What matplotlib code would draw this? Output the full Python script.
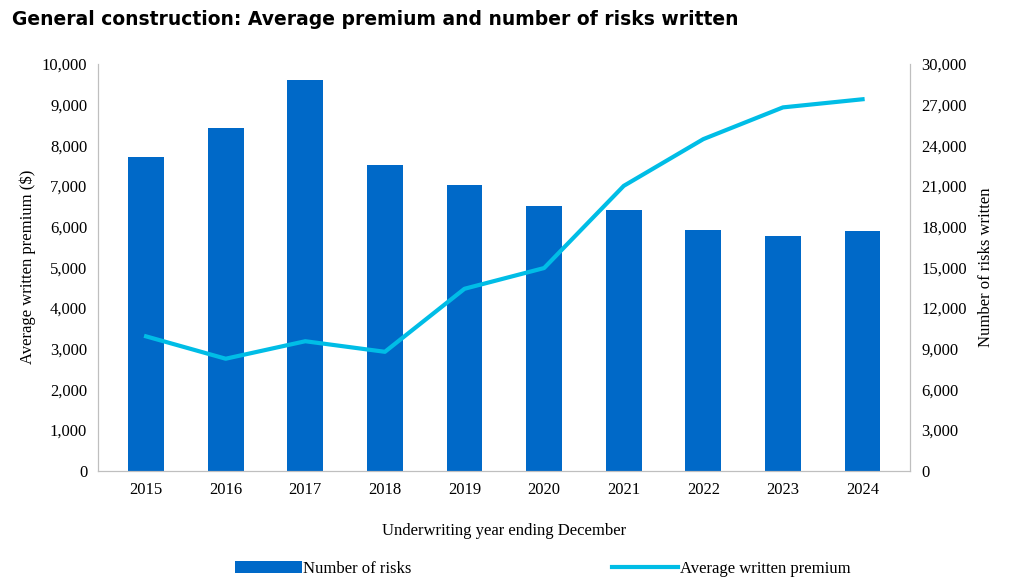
import matplotlib.pyplot as plt
from matplotlib.ticker import FuncFormatter

years = ["2015", "2016", "2017", "2018", "2019", "2020", "2021", "2022", "2023", "2024"]
risks = [23160, 25260, 28800, 22560, 21060, 19500, 19200, 17760, 17280, 17640]
premium = [3300, 2750, 3180, 2920, 4470, 4980, 7000, 8150, 8930, 9130]

plt.rcParams['font.family'] = 'Liberation Serif'
fig = plt.figure(figsize=(10.24, 5.86), dpi=100)
ax = fig.add_axes([0.096, 0.197, 0.793, 0.694])
ax2 = ax.twinx()
x = list(range(len(years)))

ax2.bar(x, risks, width=0.45, color="#0069c8", label="Number of risks", zorder=2)
ax.plot(x, premium, color="#00bde6", lw=3, label="Average written premium", zorder=3)
ax.set_zorder(ax2.get_zorder() + 1)
ax.patch.set_visible(False)

fmt = FuncFormatter(lambda v, p: f"{int(v):,}")
ax.set_ylim(0, 10000)
ax.set_yticks(range(0, 10001, 1000))
ax.yaxis.set_major_formatter(fmt)
ax2.set_ylim(0, 30000)
ax2.set_yticks(range(0, 30001, 3000))
ax2.yaxis.set_major_formatter(fmt)
ax.set_xlim(-0.6, 9.6)
ax.set_xticks(x)
ax.set_xticklabels(years)

for a in (ax, ax2):
    a.tick_params(labelsize=12, length=0, pad=8)
    for s in ("top", "right", "left", "bottom"):
        a.spines[s].set_color("#bfbfbf")
    a.spines["top"].set_visible(False)

ax.set_ylabel("Average written premium ($)", fontsize=12)
ax2.set_ylabel("Number of risks written", fontsize=12, labelpad=8)
ax.set_xlabel("Underwriting year ending December", fontsize=12, labelpad=18)

fig.text(0.012, 0.958, "General construction: Average premium and number of risks written",
         fontsize=13.5, fontweight="heavy", family="DejaVu Sans")

h1, l1 = ax2.get_legend_handles_labels()
h2, l2 = ax.get_legend_handles_labels()
fig.legend(h1 + h2, l1 + l2, loc="lower center", ncol=2, frameon=False, fontsize=12,
           bbox_to_anchor=(0.53, -0.01), columnspacing=12, handlelength=4, handletextpad=0.1)

fig.savefig("out.png")
